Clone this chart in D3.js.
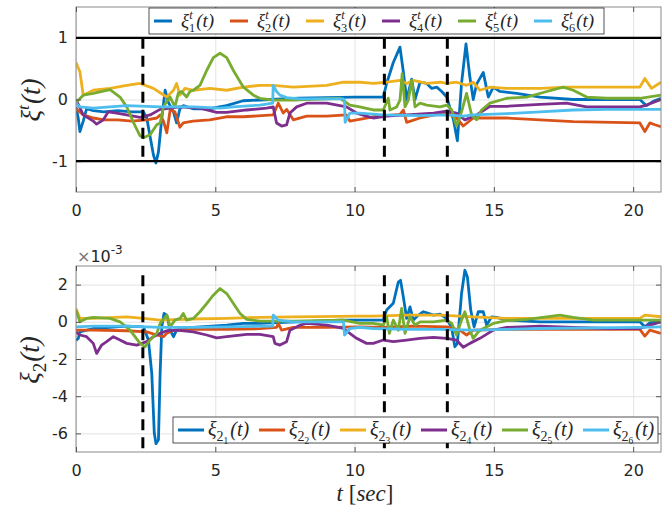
<!DOCTYPE html>
<html>
<head>
<meta charset="utf-8" />
<title>xi traces</title>
<script src="https://d3js.org/d3.v7.min.js"></script>
<style>
  body { margin: 0; background: #fff; }
  svg { display: block; }
  .tick text { font-family: "DejaVu Sans", sans-serif; font-size: 16px; fill: #262626; }
  .math { font-family: "Liberation Serif", serif; font-style: italic; fill: #262626; }
  .up { font-style: normal; }
</style>
</head>
<body>
<svg id="chart" width="668" height="512"></svg>
<script>
var colors = ["#0072BD", "#D95319", "#EDB120", "#7E2F8E", "#77AC30", "#4DBEEE"];
var seriesIdx = ["1", "2", "3", "4", "5", "6"];
var xTicks = [0, 5, 10, 15, 20];
var topTicks = [-1, 0, 1];
var botTicks = [-6, -4, -2, 0, 2];
var eventTimes = [2.4, 11.07, 13.33];
var bounds = [-1, 1];

// top panel, [t, value]
var topXi1 = [[0,-0.12],[0.08,-0.3],[0.14,-0.52],[0.26,-0.35],[0.38,-0.15],[0.62,-0.18],[1.0,-0.2],[1.5,-0.18],[2.0,-0.2],[2.42,-0.2],[2.54,-0.3],[2.66,-0.6],[2.78,-0.9],[2.87,-1.03],[2.96,-0.85],[3.08,-0.3],[3.2,0.15],[3.32,-0.05],[3.5,-0.2],[3.61,-0.38],[3.73,-0.15],[3.85,-0.1],[4.2,-0.15],[4.8,-0.15],[5.4,-0.1],[6.0,-0.02],[7.0,0.0],[8.0,0.02],[9.0,0.03],[10.0,0.04],[11.03,0.04],[11.15,0.26],[11.39,0.6],[11.63,0.85],[11.75,0.45],[11.87,0.0],[12.05,0.33],[12.17,0.0],[12.35,0.28],[12.59,0.26],[12.77,0.18],[12.95,0.2],[13.13,0.13],[13.31,0.04],[13.55,-0.33],[13.69,-0.67],[13.84,0.26],[14.0,0.9],[14.14,0.36],[14.26,0.0],[14.38,0.25],[14.62,0.44],[14.8,0.04],[14.98,0.2],[15.22,0.13],[15.82,0.1],[16.66,0.04],[17.85,0.0],[20.24,0.0],[20.48,-0.1],[20.72,-0.03],[21,0.02]];
var topXi2 = [[0,-0.15],[0.26,-0.25],[0.62,-0.3],[1.0,-0.33],[1.5,-0.33],[2.0,-0.35],[2.54,-0.33],[2.9,-0.3],[3.02,-0.25],[3.14,-0.35],[3.26,-0.54],[3.38,-0.17],[3.55,-0.2],[3.73,-0.45],[3.85,-0.38],[4.2,-0.35],[4.8,-0.33],[5.4,-0.28],[6.0,-0.28],[7.08,-0.25],[7.26,-0.06],[7.44,-0.22],[7.56,-0.16],[7.8,-0.33],[8.28,-0.27],[9.0,-0.27],[9.71,-0.25],[9.83,-0.35],[10.67,-0.28],[11.63,-0.24],[11.75,-0.17],[11.87,-0.37],[12.35,-0.3],[13.31,-0.21],[13.66,-0.3],[13.9,-0.43],[14.26,-0.3],[15.46,-0.3],[16.66,-0.33],[17.85,-0.36],[20.24,-0.38],[20.42,-0.52],[20.6,-0.38],[20.78,-0.41],[21,-0.44]];
var topXi3 = [[0,0.6],[0.14,0.45],[0.26,0.07],[0.62,0.15],[1.22,0.18],[1.82,0.23],[2.3,0.26],[2.78,0.18],[3.02,0.11],[3.26,0.04],[3.5,0.15],[3.61,0.26],[3.73,0.07],[3.91,0.18],[4.21,0.15],[4.81,0.18],[5.41,0.15],[6.01,0.2],[6.6,0.23],[7.08,0.23],[7.8,0.2],[9.0,0.23],[9.6,0.28],[10.19,0.28],[10.67,0.26],[11.15,0.28],[11.63,0.31],[11.87,0.26],[12.11,0.31],[12.59,0.26],[13.07,0.28],[13.31,0.26],[13.66,0.28],[14.02,0.23],[14.26,0.28],[14.5,0.15],[14.86,0.2],[15.46,0.18],[16.66,0.18],[17.61,0.2],[20.24,0.2],[20.42,0.34],[20.66,0.18],[21,0.28]];
var topXi4 = [[0,0.0],[0.26,-0.25],[0.62,-0.35],[0.74,-0.4],[0.98,-0.33],[1.16,-0.2],[1.46,-0.22],[1.82,-0.25],[2.3,-0.29],[2.66,-0.25],[3.02,-0.16],[3.38,-0.14],[3.73,-0.12],[4.45,-0.14],[5.05,-0.21],[5.41,-0.21],[6.13,-0.17],[6.84,-0.14],[7.08,-0.12],[7.2,-0.38],[7.38,-0.43],[7.56,-0.41],[7.68,-0.22],[7.92,-0.12],[8.28,-0.06],[9.0,-0.06],[9.71,-0.12],[10.07,-0.22],[10.43,-0.27],[10.67,-0.3],[11.15,-0.27],[11.87,-0.25],[12.83,-0.22],[13.31,-0.19],[13.66,-0.22],[13.96,-0.33],[14.38,-0.25],[14.86,-0.11],[15.46,-0.11],[16.66,-0.08],[17.61,-0.06],[18.33,-0.12],[20.24,-0.12],[20.48,-0.09],[21,0.0]];
var topXi5 = [[0,-0.05],[0.26,0.07],[0.62,0.1],[1.22,0.16],[1.58,0.04],[1.82,-0.12],[2.06,-0.37],[2.3,-0.59],[2.42,-0.62],[2.66,-0.57],[2.9,-0.41],[3.02,-0.38],[3.14,-0.12],[3.26,-0.03],[3.38,0.04],[3.55,-0.12],[3.67,0.1],[3.79,0.13],[3.97,0.04],[4.09,0.13],[4.21,0.15],[4.45,0.23],[4.69,0.47],[4.93,0.68],[5.17,0.75],[5.41,0.68],[5.65,0.47],[6.01,0.2],[6.37,0.07],[6.6,0.02],[7.08,-0.01],[7.8,-0.01],[9.48,0.02],[9.83,-0.09],[10.19,-0.12],[10.67,-0.17],[11.03,-0.17],[11.21,0.02],[11.27,-0.17],[11.51,-0.12],[11.63,-0.01],[11.71,0.42],[11.81,-0.12],[11.93,-0.01],[12.05,0.31],[12.17,-0.12],[12.35,-0.06],[12.59,-0.09],[13.07,-0.12],[13.31,-0.09],[13.49,-0.17],[13.66,-0.43],[13.84,-0.2],[14.02,0.1],[14.2,-0.25],[14.38,-0.33],[14.56,-0.17],[14.86,-0.06],[15.46,0.02],[16.18,0.04],[16.9,0.13],[17.49,0.2],[17.85,0.15],[18.33,0.04],[19.05,0.02],[20.24,0.02],[21,0.07]];
var topXi6 = [[0,-0.06],[0.14,-0.12],[0.62,-0.14],[1.82,-0.1],[3.02,-0.12],[4.21,-0.12],[5.17,-0.14],[5.65,-0.12],[6.6,-0.09],[7.06,-0.06],[7.08,0.23],[7.2,0.13],[7.32,0.07],[7.56,0.03],[8.04,0.01],[9.6,0.01],[9.64,-0.01],[9.66,-0.37],[9.83,-0.22],[10.19,-0.22],[11.0,-0.25],[12.35,-0.26],[13.31,-0.25],[13.9,-0.27],[14.26,-0.25],[15.46,-0.23],[16.66,-0.2],[17.85,-0.17],[19.05,-0.16],[21,-0.16]];

// bottom panel, values in 1e-3
var botXi1 = [[0,-1.0],[0.08,-0.9],[0.14,-0.54],[0.62,-0.36],[1.82,-0.23],[2.42,-0.27],[2.6,-0.98],[2.72,-2.77],[2.81,-5.98],[2.87,-6.55],[2.96,-6.34],[3.02,-2.77],[3.08,-0.27],[3.16,0.45],[3.26,0.36],[3.38,-0.45],[3.5,-0.8],[3.61,-0.45],[4.21,-0.3],[5.41,-0.18],[6.01,-0.09],[6.6,-0.09],[9.48,0.09],[11.03,0.09],[11.15,0.63],[11.39,1.0],[11.57,2.14],[11.65,2.23],[11.75,1.34],[11.87,0.18],[11.99,0.8],[12.11,0.09],[12.29,0.36],[12.47,0.54],[12.65,0.45],[12.83,0.36],[13.07,0.41],[13.31,0.18],[13.49,-0.36],[13.6,-1.34],[13.69,-1.16],[13.84,1.52],[13.96,2.77],[14.05,2.41],[14.17,0.63],[14.29,-0.27],[14.44,0.54],[14.62,0.54],[14.74,-0.18],[14.92,0.27],[15.1,0.24],[15.46,0.09],[16.66,0.0],[20.24,0.0],[20.42,-0.27],[20.6,-0.05],[21,0.0]];
var botXi2 = [[0,-0.45],[0.62,-0.45],[1.82,-0.48],[2.54,-0.54],[2.9,-0.71],[3.14,-0.8],[3.26,-0.62],[3.5,-0.45],[4.21,-0.41],[5.41,-0.41],[6.6,-0.37],[7.2,-0.3],[7.26,-0.09],[7.38,-0.45],[7.8,-0.3],[9.0,-0.3],[10.19,-0.27],[11.0,-0.3],[12.11,-0.23],[13.31,-0.27],[13.78,-0.45],[14.02,-0.71],[14.26,-0.45],[15.46,-0.41],[16.66,-0.41],[20.24,-0.41],[20.42,-0.77],[20.6,-0.45],[21,-0.62]];
var botXi3 = [[0,0.72],[0.14,0.18],[0.62,0.18],[1.82,0.27],[2.42,0.18],[3.02,0.09],[4.21,0.15],[5.41,0.18],[6.6,0.24],[7.8,0.27],[10.19,0.31],[10.67,0.31],[11.87,0.36],[13.07,0.36],[14.26,0.27],[15.46,0.18],[16.66,0.18],[20.24,0.18],[20.42,0.36],[21,0.27]];
var botXi4 = [[0,-0.54],[0.14,-0.71],[0.38,-0.8],[0.62,-1.16],[0.74,-1.7],[0.92,-1.25],[1.1,-1.07],[1.34,-0.8],[1.58,-0.98],[1.82,-1.16],[2.18,-1.25],[2.54,-1.07],[2.78,-0.8],[3.02,-0.62],[3.26,-0.48],[3.61,-0.45],[4.21,-0.54],[4.69,-0.71],[5.05,-0.86],[5.41,-0.8],[6.13,-0.68],[6.6,-0.68],[7.08,-0.8],[7.14,-1.16],[7.32,-1.25],[7.56,-1.07],[7.68,-0.45],[8.04,-0.18],[8.28,-0.09],[9.0,-0.18],[9.6,-0.36],[9.83,-0.62],[10.07,-0.89],[10.43,-1.16],[10.67,-1.16],[11.03,-0.98],[11.39,-1.07],[11.87,-0.98],[12.35,-0.89],[12.83,-0.84],[13.31,-0.89],[13.66,-0.98],[13.9,-1.37],[14.14,-1.16],[14.5,-0.89],[14.98,-0.45],[15.46,-0.3],[16.66,-0.23],[17.85,-0.3],[19.05,-0.36],[20.24,-0.36],[20.6,-0.18],[21,0.0]];
var botXi5 = [[0,0.63],[0.14,0.0],[0.38,0.18],[0.62,0.24],[1.22,0.18],[1.58,0.0],[1.94,-0.45],[2.3,-1.16],[2.48,-1.34],[2.66,-0.98],[2.9,-0.62],[3.02,-0.09],[3.26,0.36],[3.38,-0.27],[3.55,0.09],[3.73,0.18],[3.85,0.45],[3.97,0.09],[4.21,0.18],[4.45,0.54],[4.69,0.98],[4.93,1.43],[5.17,1.79],[5.41,1.52],[5.65,0.98],[5.89,0.45],[6.13,0.13],[6.6,0.04],[7.8,0.04],[9.6,0.09],[10.19,-0.09],[10.67,-0.09],[11.03,-0.18],[11.15,0.27],[11.25,-0.62],[11.39,0.09],[11.57,-0.45],[11.69,0.72],[11.81,-0.62],[11.99,0.27],[12.17,-0.18],[12.35,0.0],[12.83,0.0],[13.31,0.09],[13.49,-0.09],[13.66,-0.71],[13.84,0.09],[13.96,0.54],[14.14,-0.45],[14.26,-0.89],[14.44,-0.54],[14.62,-0.36],[14.98,-0.09],[15.46,0.06],[16.18,0.13],[16.9,0.27],[17.37,0.36],[17.85,0.24],[18.57,0.09],[20.24,0.09],[21,0.09]];
var botXi6 = [[0,-0.27],[0.62,-0.23],[1.82,-0.23],[3.02,-0.3],[4.21,-0.3],[5.41,-0.27],[7.06,-0.23],[7.08,0.36],[7.26,0.09],[7.8,0.0],[9.6,0.0],[9.64,-0.71],[9.83,-0.36],[10.19,-0.3],[10.67,-0.36],[11.87,-0.41],[13.07,-0.41],[14.26,-0.45],[15.46,-0.41],[16.66,-0.36],[20.24,-0.3],[21,-0.27]];

var svg = d3.select("#chart");
var x = d3.scaleLinear().domain([0, 21]).range([76, 661]);
var yTop = d3.scaleLinear().domain([-1.5, 1.5]).range([192, 7]);
var yBot = d3.scaleLinear().domain([-7, 3]).range([452, 266]);

function panel(y, yTicks, series, id) {
    var g = svg.append("g");
    var x0 = x.range()[0], x1 = x.range()[1];
    var yb = y.range()[0], yt = y.range()[1];

    // grid
    g.append("g").attr("transform", "translate(0," + yb + ")")
        .call(d3.axisBottom(x).tickValues(xTicks).tickSize(-(yb - yt)).tickFormat(""))
        .call(function(a){ a.select(".domain").remove(); a.selectAll("line").attr("stroke", "#e3e3e3"); });
    g.append("g").attr("transform", "translate(" + x0 + ",0)")
        .call(d3.axisLeft(y).tickValues(yTicks).tickSize(-(x1 - x0)).tickFormat(""))
        .call(function(a){ a.select(".domain").remove(); a.selectAll("line").attr("stroke", "#e3e3e3"); });

    g.append("clipPath").attr("id", id)
        .append("rect").attr("x", x0).attr("y", yt).attr("width", x1 - x0).attr("height", yb - yt);

    var line = d3.line().x(function(d){ return x(d[0]); }).y(function(d){ return y(d[1]); });
    g.append("g").attr("clip-path", "url(#" + id + ")")
        .selectAll("path").data(series).enter().append("path")
        .attr("d", line)
        .attr("fill", "none")
        .attr("stroke", function(d, i){ return colors[i]; })
        .attr("stroke-width", 2.8)
        .attr("stroke-linejoin", "round");

    // box and ticks
    g.append("rect").attr("x", x0).attr("y", yt).attr("width", x1 - x0).attr("height", yb - yt)
        .attr("fill", "none").attr("stroke", "#8a8a8a");
    var fmt = function(d){ return String(d); };
    g.append("g").attr("transform", "translate(0," + yb + ")")
        .call(d3.axisBottom(x).tickValues(xTicks).tickSizeInner(-5).tickSizeOuter(0).tickPadding(13).tickFormat(fmt));
    g.append("g").attr("transform", "translate(0," + yt + ")")
        .call(d3.axisTop(x).tickValues(xTicks).tickSizeInner(-5).tickSizeOuter(0).tickFormat(""));
    g.append("g").attr("transform", "translate(" + x0 + ",0)")
        .call(d3.axisLeft(y).tickValues(yTicks).tickSizeInner(-5).tickSizeOuter(0).tickPadding(8).tickFormat(fmt));
    g.append("g").attr("transform", "translate(" + x1 + ",0)")
        .call(d3.axisRight(y).tickValues(yTicks).tickSizeInner(-5).tickSizeOuter(0).tickFormat(""));
    g.selectAll(".domain").remove();
    g.selectAll(".tick line").filter(function(){ return this.getAttribute("stroke") === "currentColor"; })
        .attr("stroke", "#555");
    return g;
}

var gTop = panel(yTop, topTicks, [topXi1, topXi2, topXi3, topXi4, topXi5, topXi6], "clipTop");
var gBot = panel(yBot, botTicks, [botXi1, botXi2, botXi3, botXi4, botXi5, botXi6], "clipBot");

// bound lines and event markers
gTop.selectAll(".bound").data(bounds).enter().append("line")
    .attr("x1", x(0)).attr("x2", x(21))
    .attr("y1", function(d){ return yTop(d); }).attr("y2", function(d){ return yTop(d); })
    .attr("stroke", "#000").attr("stroke-width", 2.4);
gTop.selectAll(".event").data(eventTimes).enter().append("line")
    .attr("x1", function(d){ return x(d); }).attr("x2", function(d){ return x(d); })
    .attr("y1", yTop(1)).attr("y2", yTop(-1))
    .attr("stroke", "#000").attr("stroke-width", 3).attr("stroke-dasharray", "11,7");
gBot.selectAll(".event").data(eventTimes).enter().append("line")
    .attr("x1", function(d){ return x(d); }).attr("x2", function(d){ return x(d); })
    .attr("y1", yBot(2.5)).attr("y2", yBot(-7))
    .attr("stroke", "#000").attr("stroke-width", 3).attr("stroke-dasharray", "11,7");

// labels
function xiTop(t, size, idx) {
    t.append("tspan").text("ξ");
    t.append("tspan").attr("font-size", size * 0.65).attr("dy", -size * 0.42).text("t");
    if (idx) {
        t.append("tspan").attr("class", "up").attr("font-size", size * 0.65)
            .attr("dx", -size * 0.19).attr("dy", size * 0.68).text(idx);
        t.append("tspan").attr("dx", 1).attr("dy", -size * 0.26).text("(t)");
    } else {
        t.append("tspan").attr("dx", 1).attr("dy", size * 0.42).text("(t)");
    }
}
function xiBot(t, size, idx) {
    t.append("tspan").text("ξ");
    t.append("tspan").attr("class", "up").attr("font-size", size * 0.7).attr("dy", size * 0.25).text("2");
    if (idx) {
        t.append("tspan").attr("class", "up").attr("font-size", size * 0.47).attr("dy", size * 0.15).text(idx);
        t.append("tspan").attr("dx", 2).attr("dy", -size * 0.4).text("(t)");
    } else {
        t.append("tspan").attr("dx", 1).attr("dy", -size * 0.25).text("(t)");
    }
}

function legend(x0, y0, w, h, pitch, len, gap, size, maker) {
    var g = svg.append("g");
    g.append("rect").attr("x", x0).attr("y", y0).attr("width", w).attr("height", h)
        .attr("fill", "#fff").attr("stroke", "#262626").attr("stroke-width", 0.8);
    var items = g.selectAll(".item").data(seriesIdx).enter().append("g")
        .attr("transform", function(d, i){ return "translate(" + (x0 + 5 + i * pitch) + "," + (y0 + h / 2) + ")"; });
    items.append("line").attr("x1", 0).attr("x2", len)
        .attr("stroke", function(d, i){ return colors[i]; }).attr("stroke-width", 3);
    items.append("text").attr("class", "math").attr("x", len + gap).attr("y", 6)
        .attr("font-size", size)
        .each(function(d){ maker(d3.select(this), size, d); });
}
legend(149, 8, 455, 26, 76, 18, 9, 19, xiTop);
legend(173, 417, 485, 26, 81, 26, 4, 20, xiBot);

// axis titles
var yl1 = svg.append("text").attr("class", "math").attr("font-size", 27)
    .attr("transform", "translate(40,100) rotate(-90)").attr("text-anchor", "middle");
xiTop(yl1, 27, null);
var yl2 = svg.append("text").attr("class", "math").attr("font-size", 27)
    .attr("transform", "translate(39,360) rotate(-90)").attr("text-anchor", "middle");
xiBot(yl2, 27, null);

var xl = svg.append("text").attr("class", "math").attr("font-size", 23)
    .attr("x", 365).attr("y", 501).attr("text-anchor", "middle");
xl.append("tspan").text("t");
xl.append("tspan").attr("class", "up").text(" [");
xl.append("tspan").text("sec");
xl.append("tspan").attr("class", "up").text("]");

var ex = svg.append("text").attr("x", 77).attr("y", 262)
    .attr("font-family", "DejaVu Sans, sans-serif").attr("font-size", 16).attr("fill", "#262626");
ex.append("tspan").attr("fill", "#777").text("×");
ex.append("tspan").text("10");
ex.append("tspan").attr("font-size", 12).attr("dy", -8).text("-3");
</script>
</body>
</html>
